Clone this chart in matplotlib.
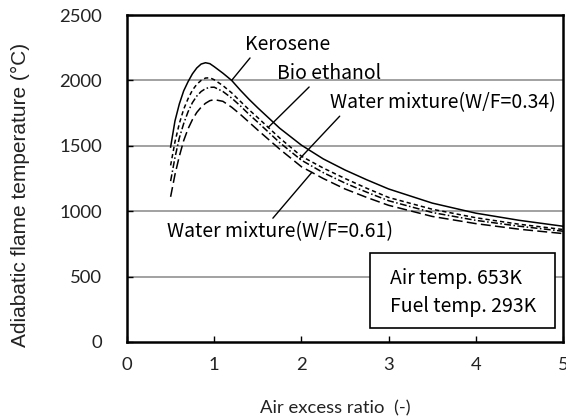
import numpy as np
import matplotlib
matplotlib.use("Agg")
import matplotlib.pyplot as plt
from matplotlib.patches import Rectangle

# air excess ratio
ratio = [0.5, 0.55, 0.6, 0.65, 0.7, 0.75, 0.8, 0.85, 0.9, 0.95, 1.0, 1.1, 1.2,
         1.3, 1.4, 1.5, 1.75, 2.0, 2.25, 2.5, 2.75, 3.0, 3.5, 4.0, 4.5, 5.0]

# adiabatic flame temperature (deg C)
kerosene = [1490, 1690, 1820, 1920, 1990, 2050, 2095, 2125, 2135, 2128, 2105, 2055, 2000,
            1925, 1855, 1790, 1635, 1505, 1400, 1315, 1240, 1170, 1062, 985, 930, 885]
bio_ethanol = [1350, 1530, 1670, 1780, 1860, 1925, 1970, 2000, 2018, 2020, 2005, 1960, 1905,
               1840, 1775, 1715, 1560, 1420, 1330, 1250, 1175, 1105, 1015, 950, 900, 860]
water_034 = [1230, 1410, 1560, 1670, 1760, 1830, 1880, 1915, 1937, 1947, 1948, 1915, 1865,
             1805, 1740, 1680, 1525, 1390, 1295, 1215, 1145, 1080, 990, 930, 885, 847]
water_061 = [1110, 1280, 1420, 1540, 1630, 1700, 1755, 1795, 1825, 1845, 1853, 1840, 1795,
             1740, 1680, 1620, 1475, 1340, 1250, 1170, 1105, 1045, 960, 905, 862, 829]

x_ticks = [0, 1, 2, 3, 4, 5]
y_ticks = [0, 500, 1000, 1500, 2000, 2500]

label_font = "Noto Sans CJK JP"
label_size = 14

fig = plt.figure(figsize=(5.66, 4.19), dpi=100)
ax = fig.add_axes([0.2244, 0.1838, 0.7703, 0.7804])

for y in y_ticks[1:-1]:
    ax.axhline(y, color="#9a9a9a", lw=1.3, zorder=1)

lw = 1.1
ax.plot(ratio, kerosene, color="black", lw=lw, zorder=3)
ax.plot(ratio, bio_ethanol, color="black", lw=lw, ls=(0, (2.8, 2.0)), zorder=3)
ax.plot(ratio, water_034, color="black", lw=lw, ls=(0, (4.5, 1.6, 1.0, 1.6)), zorder=3)
ax.plot(ratio, water_061, color="black", lw=lw, ls=(0, (6.5, 2.8)), zorder=3)

ax.set_xlim(0, 5)
ax.set_ylim(0, 2500)
ax.set_xticks(x_ticks)
ax.set_yticks(y_ticks)
ax.tick_params(direction="in", length=4, width=1, labelsize=13.3, labelcolor="#222222")
ax.tick_params(axis="y", pad=18)
ax.tick_params(axis="x", pad=11)
for lab in ax.get_xticklabels() + ax.get_yticklabels():
    lab.set_fontfamily("Lato")
for sp in ax.spines.values():
    sp.set_linewidth(1.8)

ax.set_xlabel("Air excess ratio  (-)", fontfamily="Lato", fontsize=13.3, va="center",
              color="#222222")
ax.xaxis.set_label_coords(0.477, -0.202)
ax.set_ylabel("Adiabatic flame temperature (\u00b0C)", fontfamily="Liberation Sans",
              fontsize=15, va="center", color="#222222")
ax.yaxis.set_label_coords(-0.245, 0.45)


def leader(text, series, x_at, xytext, relpos, va):
    ax.annotate(text, xy=(x_at, np.interp(x_at, ratio, series)), xytext=xytext,
                textcoords="data", ha="left", va=va, fontsize=label_size, family=label_font,
                arrowprops=dict(arrowstyle="-", color="black", lw=1.0,
                                shrinkA=0, shrinkB=0, relpos=relpos), zorder=4)


leader("Kerosene", kerosene, 1.2, (1.353, 2273), (0.11, 0.12), "center")
leader("Bio ethanol", bio_ethanol, 1.62, (1.72, 2051), (0.36, 0.12), "center")
leader("Water mixture(W/F=0.34)", water_034, 1.98, (2.328, 1828), (0.065, 0.12), "center")
leader("Water mixture(W/F=0.61)", water_061, 2.12, (0.459, 845), (0.45, 0.9), "center")

ax.add_patch(Rectangle((2.787, 105), 2.121, 576, facecolor="white",
                       edgecolor="black", lw=1.2, zorder=5))
ax.text(3.016, 489, "Air temp. 653K", fontsize=label_size, family=label_font,
        ha="left", va="center", zorder=6)
ax.text(3.016, 271, "Fuel temp. 293K", fontsize=label_size, family=label_font,
        ha="left", va="center", zorder=6)

fig.savefig("out.png", dpi=100)
